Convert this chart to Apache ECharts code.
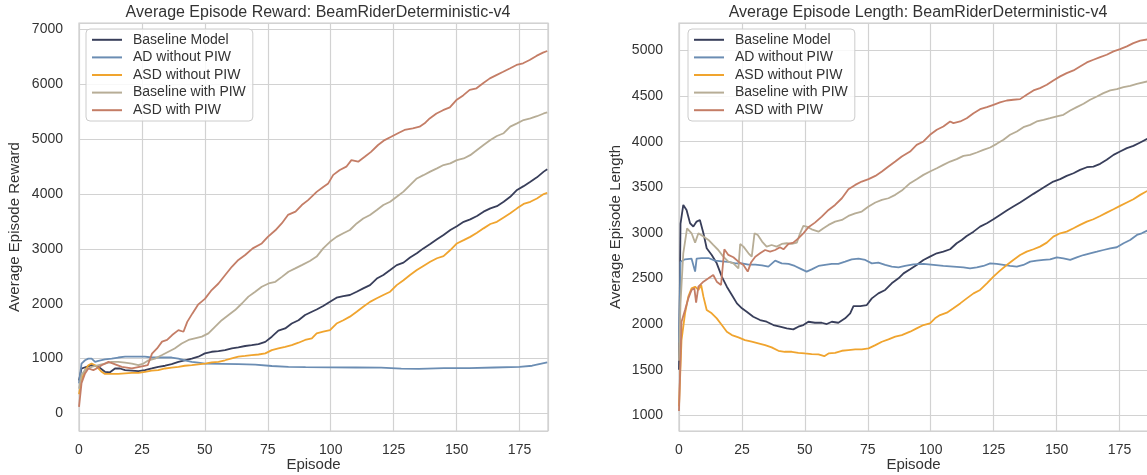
<!DOCTYPE html>
<html>
<head>
<meta charset="utf-8">
<script src="https://cdn.jsdelivr.net/npm/echarts@6/dist/echarts.min.js"></script>
<style>html,body{margin:0;padding:0;background:#fff;}#c{width:1147px;height:475px;}</style>
</head>
<body>
<div id="c"></div>
<script>
// ---------- data ----------
const seriesNames = ['Baseline Model', 'AD without PIW', 'ASD without PIW', 'Baseline with PIW', 'ASD with PIW'];
const xTicksStep = 25;

// Left: Average Episode Reward  ([episode, value])
const rewardBaseline = [[0,600],[1,820],[3,850],[5,880],[7.7,850],[10.3,760],[12.3,750],[14.3,820],[16.3,820],[18.3,790],[21,780],[23.6,770],[26.2,790],[28.9,820],[31.5,850],[34.2,870],[36.8,900],[39.5,940],[42,970],[44.8,1000],[47.4,1035],[50,1095],[52.7,1125],[55.4,1135],[58,1155],[60.7,1185],[63.3,1205],[66,1230],[68.6,1245],[71.3,1265],[74,1305],[76.6,1400],[79.2,1510],[81.9,1550],[84.5,1640],[87.2,1700],[89.8,1795],[92.5,1855],[94.4,1895],[97,1960],[99.7,2035],[102.3,2110],[105,2140],[107.6,2160],[110.3,2220],[112.9,2280],[115.6,2340],[118.3,2460],[120.9,2525],[123.6,2615],[126.2,2705],[128.9,2750],[131.5,2845],[134.2,2920],[136.8,3010],[139.5,3090],[142.2,3175],[144.8,3255],[147.5,3345],[150.1,3415],[152.8,3495],[155.4,3540],[158.1,3600],[160.7,3680],[163.4,3740],[166,3780],[168.7,3860],[171.3,3950],[174,4075],[176.6,4145],[179.3,4225],[181.9,4305],[184.6,4410],[186,4455]];
const rewardAD = [[0,550],[1,910],[2.4,970],[3.7,1000],[5,1000],[6.4,940],[7.7,960],[10.3,985],[13,1000],[15.6,1020],[18.3,1035],[21,1035],[23.6,1035],[26.2,1035],[28.9,1020],[31.5,1020],[34.2,1020],[36.8,1020],[39.5,1000],[42,970],[44.8,940],[47.4,925],[50,910],[56.7,905],[63.3,900],[70,890],[76.6,865],[83.2,850],[90,845],[100,840],[110,838],[120,835],[128,818],[135,812],[145,825],[155,828],[165,838],[175,848],[180,870],[186,930]];
const rewardASD = [[0,350],[1,610],[2.4,790],[3.7,880],[5,910],[6.4,880],[7.7,820],[9,760],[10.3,720],[13,720],[15.6,720],[18.3,730],[21,740],[23.6,740],[26.2,760],[28.9,780],[31.5,790],[34.2,820],[36.8,835],[39.5,850],[42,870],[44.8,880],[47.4,895],[50,910],[52.7,930],[55.4,940],[58,970],[60.7,1005],[63.3,1035],[66,1050],[68.6,1065],[71.3,1075],[74,1095],[76.6,1155],[79.2,1185],[81.9,1215],[84.5,1245],[87.2,1290],[89.8,1340],[92.5,1370],[94.4,1460],[97,1490],[99.7,1520],[102.3,1640],[105,1700],[107.6,1765],[110.3,1855],[112.9,1945],[115.6,2035],[118.3,2100],[120.9,2160],[123.6,2220],[126.2,2340],[128.9,2430],[131.5,2525],[134.2,2615],[136.8,2690],[139.5,2765],[142.2,2830],[144.8,2870],[147.5,2980],[150.1,3100],[152.8,3160],[155.4,3220],[158.1,3295],[160.7,3375],[163.4,3455],[166,3495],[168.7,3575],[171.3,3650],[174,3740],[176.6,3820],[179.3,3860],[181.9,3920],[184.6,4000],[186,4025]];
const rewardBaselinePIW = [[0,450],[1,700],[2.4,790],[5,850],[7.7,880],[10.3,910],[13,940],[15.6,940],[18.3,925],[21,910],[23.6,880],[25.6,910],[27.6,970],[30.2,1000],[33,1065],[35.5,1125],[38,1185],[40.8,1275],[43.5,1340],[46,1370],[48.8,1400],[51.4,1460],[54,1580],[56.7,1700],[59.4,1795],[62,1885],[64.7,2005],[67.3,2130],[70,2220],[72.6,2310],[75.3,2370],[78,2400],[80.6,2490],[83.2,2585],[85.9,2645],[88.5,2705],[91.7,2780],[94.4,2860],[97,3010],[99.7,3130],[102.3,3220],[105,3285],[107.6,3345],[110.3,3465],[112.9,3555],[115.6,3620],[118.3,3710],[120.9,3800],[123.6,3860],[126.2,3950],[128.9,4045],[131.5,4165],[134.2,4285],[136.8,4345],[139.5,4410],[142.2,4470],[144.8,4530],[147.5,4560],[150.1,4620],[152.8,4650],[155.4,4710],[158.1,4805],[160.7,4895],[163.4,4985],[166,5060],[168.7,5110],[171.3,5230],[174,5290],[176.6,5350],[179.3,5380],[181.9,5420],[184.6,5470],[186,5490]];
const rewardASDPIW = [[0,120],[1,550],[2.4,730],[3.7,820],[5.7,790],[7,820],[9,880],[11.7,940],[13.6,910],[17,850],[21,820],[25,860],[27.3,880],[29,1090],[31,1185],[33,1310],[35,1340],[37,1430],[39.5,1520],[41.5,1490],[43,1670],[45,1820],[47.4,1990],[50,2090],[52.7,2250],[55.4,2370],[58,2520],[60.7,2675],[63.3,2800],[66,2890],[69,3010],[72.6,3100],[75,3220],[78,3340],[80.6,3470],[83,3620],[86,3680],[88.5,3800],[91,3890],[94.4,4040],[97,4130],[99,4195],[101,4350],[103.6,4440],[106.2,4500],[108.2,4620],[110.9,4590],[113.5,4680],[116,4770],[118.8,4895],[121.4,4985],[124,5045],[126.7,5110],[129.3,5170],[132.6,5200],[135.3,5230],[137.3,5290],[139.3,5380],[142,5470],[144.6,5530],[147.3,5580],[149.9,5715],[152.6,5800],[155.2,5900],[157.9,5930],[160.5,6020],[163.2,6110],[165.8,6170],[168.5,6230],[171.1,6290],[173.8,6355],[176.4,6385],[179,6445],[181.7,6520],[184.3,6580],[186,6610]];

// Right: Average Episode Length  ([episode, value])
const lengthBaseline = [[0,1500],[0.6,3100],[1.7,3307],[3,3252],[4.4,3106],[5.7,3070],[7,3124],[8.3,3142],[9.7,2996],[11,2832],[13,2759],[15,2667],[17,2521],[19,2411],[21,2320],[23,2228],[25,2174],[26.9,2137],[29.5,2082],[32.2,2046],[34.8,2027],[37.5,1991],[40.1,1973],[42.8,1954],[45.4,1943],[47.4,1973],[49.4,1991],[51.4,2027],[54,2016],[56.7,2016],[58.7,2002],[60.7,2027],[63.3,2016],[66,2064],[68,2119],[69.3,2199],[72,2199],[74.6,2210],[76.6,2283],[79.2,2338],[81.9,2375],[84.5,2448],[87.2,2503],[89.2,2557],[91.8,2601],[94.4,2649],[97.1,2704],[99.7,2740],[102.4,2777],[105,2795],[107.7,2821],[110.3,2887],[112.3,2923],[114.3,2967],[117,3014],[119.6,3069],[122.3,3106],[124.9,3150],[127.5,3197],[130.2,3245],[132.8,3289],[135.5,3333],[138.1,3380],[140.8,3428],[143.4,3472],[146.1,3519],[148.7,3563],[151.4,3589],[154,3625],[156.7,3654],[159.3,3691],[162,3720],[164.6,3727],[167.3,3757],[169.9,3801],[172.6,3855],[175.2,3892],[177.9,3929],[180.5,3954],[183.2,3991],[186,4030]];
const lengthAD = [[0,1800],[0.6,2685],[2.4,2711],[5,2718],[6.4,2576],[7,2718],[9,2725],[11.7,2725],[14.3,2696],[17,2689],[19.7,2682],[22.3,2667],[25,2667],[27.6,2653],[30.3,2653],[33,2645],[35.5,2631],[38.2,2696],[40.8,2667],[43.5,2660],[46,2638],[48.8,2601],[50.7,2576],[52.7,2601],[55.4,2638],[58,2649],[60.7,2660],[63.3,2660],[66,2685],[68.6,2711],[71.3,2718],[74,2704],[76.6,2667],[79.2,2675],[81.9,2649],[84.5,2631],[87.2,2623],[89.8,2638],[93.1,2656],[97.1,2660],[101.1,2649],[105,2638],[109,2631],[113,2623],[115.6,2612],[118.3,2623],[120.9,2638],[123.6,2667],[126.2,2660],[128.9,2649],[131.5,2638],[134.2,2631],[136.8,2649],[139.5,2685],[142.1,2696],[144.8,2704],[147.4,2711],[150.1,2733],[152.7,2722],[155.4,2704],[158,2733],[160.7,2758],[163.3,2777],[166,2795],[168.6,2813],[171.3,2832],[173.9,2843],[176.6,2887],[179.2,2923],[181.9,2978],[183.8,2996],[186,3025]];
const lengthASD = [[0,1100],[1,1826],[2.4,2119],[3.7,2302],[5,2393],[6.4,2411],[7.7,2375],[8.8,2430],[9.7,2302],[11,2155],[13,2119],[15,2064],[17,1991],[19,1918],[21,1881],[23.6,1856],[26.2,1826],[28.9,1808],[31.5,1790],[34.2,1771],[36.8,1746],[39.5,1709],[42,1698],[44.8,1698],[47.4,1687],[50,1680],[52.7,1673],[55.4,1669],[57.7,1650],[59.4,1680],[62,1687],[64.7,1709],[67.3,1717],[70,1724],[72.6,1724],[75.3,1735],[78,1771],[80.6,1808],[83.2,1834],[85.9,1863],[88.5,1881],[91.8,1918],[94.4,1954],[97.1,1991],[99.7,2009],[101.7,2064],[103.7,2100],[106.4,2126],[109,2174],[111.7,2228],[114.3,2283],[117,2338],[119.6,2375],[122.3,2448],[124.9,2521],[127.5,2587],[130.2,2649],[132.8,2704],[135.5,2758],[138.1,2795],[140.8,2821],[143.4,2850],[146.1,2894],[148.7,2960],[151.4,2996],[154,3014],[156.7,3051],[159.3,3088],[162,3124],[164.6,3150],[167.3,3186],[169.9,3223],[172.6,3259],[175.2,3296],[177.9,3333],[180.5,3369],[183.2,3417],[186,3460]];
const lengthBaselinePIW = [[0,1600],[0.6,2228],[1.7,2777],[3.2,3051],[5,2996],[6.4,2894],[7.7,2996],[9.7,2960],[11.7,2923],[13.6,2868],[15.6,2813],[17.6,2740],[19.6,2685],[21.6,2667],[23.6,2612],[24.3,2879],[25.6,2850],[27.6,2777],[28.9,2740],[30,2996],[31.3,2978],[33,2905],[34.8,2850],[36.8,2868],[38.8,2850],[40.8,2879],[42.8,2887],[44.8,2879],[46.8,2894],[48.1,2996],[49.4,3077],[50.7,3069],[52.7,3040],[55.4,3014],[57.4,3051],[59.4,3088],[62,3124],[64.7,3142],[67.3,3186],[70,3215],[72.6,3234],[75.3,3289],[78,3333],[80.6,3362],[83.2,3380],[85.9,3417],[88.5,3464],[91.8,3545],[94.4,3589],[97.1,3636],[99.7,3673],[102.4,3709],[105,3746],[107.7,3782],[110.3,3808],[113,3844],[115.6,3855],[118.3,3881],[120.9,3910],[123.6,3936],[126.2,3976],[128.9,4020],[131.5,4075],[134.2,4111],[136.8,4159],[139.5,4184],[142.1,4221],[144.8,4239],[147.4,4257],[150.1,4276],[152.7,4294],[155.4,4341],[158,4378],[160.7,4415],[163.3,4459],[166,4495],[168.6,4532],[171.3,4561],[173.9,4576],[176.6,4598],[179.2,4612],[181.9,4634],[186,4660]];
const lengthASDPIW = [[0,1050],[1,2027],[2.4,2155],[3.7,2283],[5,2375],[6.1,2393],[6.8,2236],[7.7,2411],[9.7,2466],[11.7,2503],[13.6,2539],[15,2466],[16.7,2430],[18,2821],[19.6,2759],[21.6,2733],[23.6,2685],[25.6,2649],[27.3,2576],[28.6,2675],[30.3,2740],[32.2,2777],[34.2,2813],[36.2,2795],[38.2,2813],[40.1,2843],[41.5,2821],[43.5,2879],[45.4,2894],[47.4,2941],[49.4,2996],[51.4,3062],[54,3113],[56.7,3179],[59.4,3252],[62,3307],[64.7,3380],[67.3,3479],[70,3526],[72.6,3563],[75.3,3589],[78,3625],[80.6,3673],[83.2,3727],[85.9,3782],[88.5,3837],[91.8,3892],[94.4,3965],[97.1,4002],[99.7,4075],[102.4,4130],[105,4166],[107.7,4221],[109,4203],[111.7,4221],[114.3,4257],[117,4312],[119.6,4356],[122.3,4378],[124.9,4404],[127.5,4430],[130.2,4451],[132.8,4459],[135.5,4466],[138.1,4514],[140.8,4561],[143.4,4587],[146.1,4623],[148.7,4671],[151.4,4715],[154,4751],[156.7,4780],[159.3,4824],[162,4868],[164.6,4897],[167.3,4927],[169.9,4952],[172.6,4989],[175.2,5014],[177.9,5044],[180.5,5080],[183.2,5106],[186,5120]];

const rewardSeries = [rewardBaseline, rewardAD, rewardASD, rewardBaselinePIW, rewardASDPIW];
const lengthSeries = [lengthBaseline, lengthAD, lengthASD, lengthBaselinePIW, lengthASDPIW];

// ---------- styling ----------
const colors = ['#383e5a', '#6b8db3', '#f0a42e', '#b7ad96', '#c47d66'];
const FONT = "'Liberation Sans', Arial, sans-serif";
const TXT = '#333333';
const GRID = '#d2d2d2';
const plain = v => String(v);

const chart = echarts.init(document.getElementById('c'), null, {renderer: 'canvas'});

function xAxisCfg(gi) {
  return {
    type: 'value', gridIndex: gi, min: 0, max: 186.3, interval: xTicksStep,
    name: 'Episode', nameLocation: 'middle', nameGap: 26, nameMoveOverlap: false,
    nameTextStyle: {fontFamily: FONT, fontSize: 15, color: TXT},
    axisLine: {show: false}, axisTick: {show: false},
    axisLabel: {fontFamily: FONT, fontSize: 14, color: TXT, margin: 12, showMaxLabel: false, formatter: plain},
    splitLine: {show: true, lineStyle: {color: GRID, width: 1.2}}
  };
}
function yAxisCfg(gi, min, max, step, name, gap) {
  return {
    type: 'value', gridIndex: gi, min: min, max: max, minInterval: step, maxInterval: step,
    splitNumber: Math.round((max - min) / step),
    name: name, nameLocation: 'middle', nameGap: gap,
    nameTextStyle: {fontFamily: FONT, fontSize: 15, color: TXT},
    axisLine: {show: false}, axisTick: {show: false},
    axisLabel: {fontFamily: FONT, fontSize: 14, color: TXT, margin: 16, showMinLabel: false, showMaxLabel: false, formatter: plain},
    splitLine: {show: true, lineStyle: {color: GRID, width: 1.2}}
  };
}
function legendCfg(left) {
  return {
    left: left, top: 29, orient: 'vertical', data: seriesNames,
    icon: 'rect', itemWidth: 30, itemHeight: 2, itemGap: 0,
    padding: [2, 7, 2, 6],
    borderColor: '#cccccc', borderWidth: 1, borderRadius: 4,
    backgroundColor: 'rgba(255,255,255,0.85)',
    textStyle: {fontFamily: FONT, fontSize: 14, color: TXT, lineHeight: 17.6, padding: [0, 0, 0, 6]},
    selectedMode: false
  };
}

const series = [];
[rewardSeries, lengthSeries].forEach((group, gi) => {
  group.forEach((d, i) => {
    series.push({
      name: seriesNames[i], type: 'line', xAxisIndex: gi, yAxisIndex: gi,
      data: d, showSymbol: false, symbol: 'none',
      lineStyle: {color: colors[i], width: 1.8}, itemStyle: {color: colors[i]},
      z: 2 + i
    });
  });
});

const gridBase = {top: 23, width: 469, height: 408, show: true, borderColor: '#cccccc', borderWidth: 1.2,
  backgroundColor: 'transparent', containLabel: false, outerBoundsMode: 'none'};

chart.setOption({
  animation: false,
  backgroundColor: '#ffffff',
  color: colors,
  title: [
    {text: 'Average Episode Reward: BeamRiderDeterministic-v4', left: 313, top: 0, textAlign: 'center',
     textStyle: {fontFamily: FONT, fontSize: 16, fontWeight: 'normal', color: TXT}},
    {text: 'Average Episode Length: BeamRiderDeterministic-v4', left: 913, top: 0, textAlign: 'center',
     textStyle: {fontFamily: FONT, fontSize: 16, fontWeight: 'normal', color: TXT}}
  ],
  legend: [legendCfg(86), legendCfg(688)],
  grid: [
    Object.assign({left: 79}, gridBase),
    Object.assign({left: 679}, gridBase)
  ],
  xAxis: [xAxisCfg(0), xAxisCfg(1)],
  yAxis: [
    yAxisCfg(0, -320, 7120, 1000, 'Average Episode Reward', 57),
    yAxisCfg(1, 830, 5300, 500, 'Average Episode Length', 56)
  ],
  series: series
});
</script>
</body>
</html>
